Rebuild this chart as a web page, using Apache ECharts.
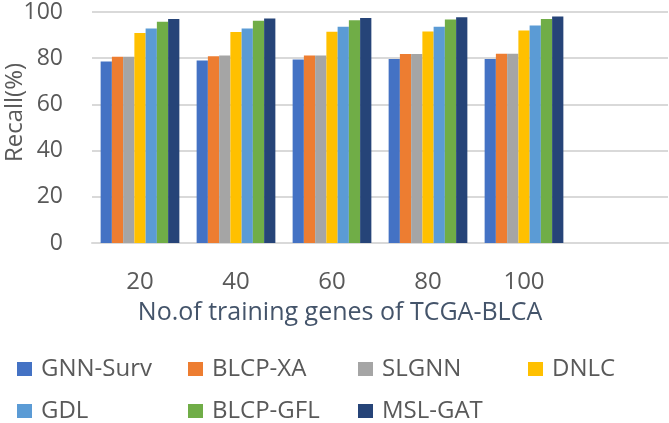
<!DOCTYPE html>
<html><head><meta charset="utf-8">
<script src="https://cdn.jsdelivr.net/npm/echarts@6/dist/echarts.min.js"></script>
<style>html,body{margin:0;padding:0;background:#fff}#c{width:669px;height:423px}</style>
</head><body><div id="c"></div>
<script>
const categories = ['20', '40', '60', '80', '100', ''];
const seriesNames = ['GNN-Surv', 'BLCP-XA', 'SLGNN', 'DNLC', 'GDL', 'BLCP-GFL', 'MSL-GAT'];
const gnnSurv = [78.6, 79.0, 79.4, 79.6, 79.6];
const blcpXA = [80.6, 80.8, 81.2, 81.8, 81.9];
const slgnn = [80.6, 81.2, 81.2, 81.8, 81.9];
const dnlc = [90.9, 91.3, 91.5, 91.6, 92.0];
const gdl = [92.9, 92.9, 93.6, 93.6, 94.2];
const blcpGFL = [95.8, 96.2, 96.4, 96.7, 97.0];
const mslGAT = [97.0, 97.2, 97.4, 97.7, 98.1];
const yTicks = [0, 20, 40, 60, 80, 100];
const colors = ['#4472C4', '#ED7D31', '#A5A5A5', '#FFC000', '#5B9BD5', '#70AD47', '#264478'];
const allData = [gnnSurv, blcpXA, slgnn, dnlc, gdl, blcpGFL, mslGAT];
const font = '"Open Sans", "Noto Sans", sans-serif';

const chart = echarts.init(document.getElementById('c'));
const legendLefts = [17, 188, 358, 528, 17, 188, 358];
const legendTops = [357, 357, 357, 357, 399, 399, 399];
chart.setOption({
  animation: false,
  color: colors,
  grid: { left: 92, right: 1, top: 12, bottom: 180, containLabel: false, outerBoundsMode: 'none' },
  legend: seriesNames.map((n, i) => ({
    left: legendLefts[i],
    top: legendTops[i],
    padding: 0,
    itemWidth: 15,
    itemHeight: 14,
    icon: 'rect',
    data: [n],
    textStyle: { fontFamily: font, fontSize: 24, color: '#595959', padding: [0, 0, 0, 4] }
  })),
  xAxis: {
    type: 'category',
    data: categories,
    axisLine: { show: true, lineStyle: { color: '#D9D9D9', width: 2 } },
    axisTick: { show: false },
    axisLabel: { fontFamily: font, fontSize: 24, color: '#595959', margin: 27 },
    name: 'No.of training genes of TCGA-BLCA',
    nameLocation: 'middle',
    nameGap: 57,
    nameMoveOverlap: false,
    nameTextStyle: { fontFamily: font, fontSize: 25, color: '#44546A', padding: [0, 80, 0, 0] }
  },
  yAxis: {
    type: 'value',
    min: 0, max: 100, interval: 20,
    offset: 25,
    axisLine: { show: false },
    axisTick: { show: false },
    splitLine: { lineStyle: { color: '#D9D9D9', width: 2 } },
    axisLabel: { fontFamily: font, fontSize: 23, color: '#595959', margin: 4,
      formatter: v => yTicks.includes(v) ? String(v) : '' },
    name: 'Recall(%)',
    nameLocation: 'middle',
    nameGap: 40,
    nameRotate: 90,
    nameMoveOverlap: false,
    nameTextStyle: { fontFamily: font, fontSize: 24, color: '#595959', padding: [0, 0, 0, 30] }
  },
  series: seriesNames.map((n, i) => ({
    name: n,
    type: 'bar',
    data: allData[i],
    barGap: '0%',
    barCategoryGap: '18%',
    itemStyle: { color: colors[i] }
  }))
});
</script></body></html>
